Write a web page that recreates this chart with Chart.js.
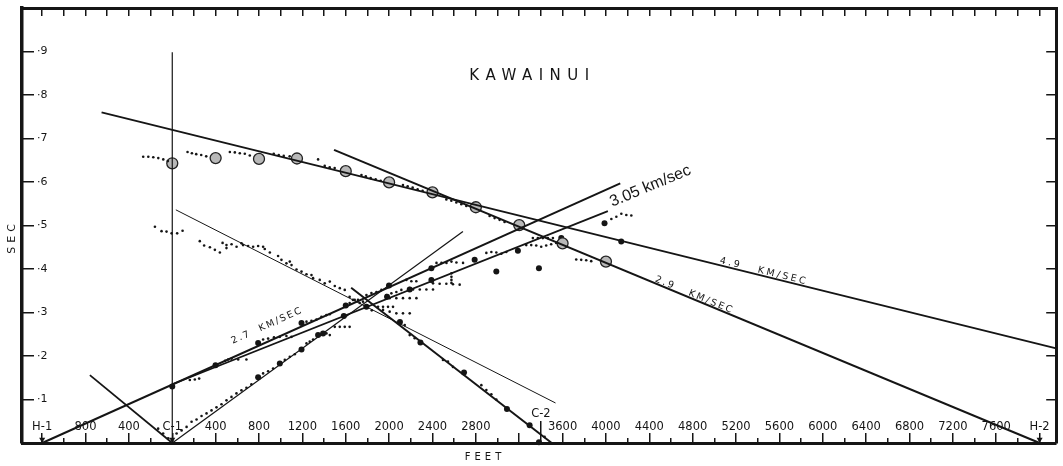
<!DOCTYPE html>
<html>
<head>
<meta charset="utf-8">
<script src="https://cdn.jsdelivr.net/npm/chart.js@4.4.1/dist/chart.umd.min.js"></script>
<style>
	html, body { margin: 0; padding: 0; background: #fff; }
	#wrap { position: relative; width: 1063px; height: 466px; }
</style>
</head>
<body>
<div id="wrap"><canvas id="chart"></canvas></div>
<script>
// distance in feet from shot point C-1, travel time in seconds

const xMajor = [-1200, -800, -400, 0, 400, 800, 1200, 1600, 2000, 2400, 2800, 3200, 3600, 4000, 4400, 4800, 5200, 5600, 6000, 6400, 6800, 7200, 7600, 8000];
const xMajorLabels = ['H-1', '800', '400', 'C-1', '400', '800', '1200', '1600', '2000', '2400', '2800', '', '3600', '4000', '4400', '4800', '5200', '5600', '6000', '6400', '6800', '7200', '7600', 'H-2'];
const xMinor = [-1000, -600, -200, 200, 600, 1000, 1400, 1800, 2200, 2600, 3000, 3800, 4200, 4600, 5000, 5400, 5800, 6200, 6600, 7000, 7400, 7800];
const xC2 = [3400];
const xC2Labels = ['C-2'];
const yTicks = [0.1, 0.2, 0.3, 0.4, 0.5, 0.6, 0.7, 0.8, 0.9];
const yTickLabels = ['·1', '·2', '·3', '·4', '·5', '·6', '·7', '·8', '·9'];

// ringed picks
const ringX = [0, 400, 800, 1150, 1600, 2000, 2400, 2800, 3200, 3600, 4000];
const ringY = [0.643, 0.655, 0.653, 0.654, 0.625, 0.599, 0.576, 0.542, 0.501, 0.459, 0.417];

// large picks
const bigX = [0, 399, 792, 1192, 1600, 1582, 1791, 1981, 1999, 2190, 2390, 2390, 2789, 2989, 3188, 3382, 3588, 3987, 4141, 792, 992, 1192, 1345, 1391, 2100, 2289, 2691, 3087, 3296, 3382];
const bigY = [0.130, 0.179, 0.230, 0.276, 0.316, 0.292, 0.313, 0.336, 0.362, 0.353, 0.402, 0.375, 0.421, 0.394, 0.442, 0.402, 0.471, 0.505, 0.463, 0.151, 0.183, 0.215, 0.248, 0.252, 0.278, 0.231, 0.162, 0.078, 0.041, 0.002];

// small picks
const upperX = [-268, -221, -175, -129, -83, -41, 141, 181, 221, 267, 313, 531, 577, 623, 669, 715, 936, 982, 1028, 1083, 1345, 1406, 1452, 1498, 1745, 1785, 1830, 1876, 1922, 2128, 2171, 2217, 2263, 2309, 2528, 2574, 2620, 2666, 2712, 2927, 2973, 3019, 3065, 3726, 3772, 3818, 3864, 4050, 4096, 4142, 4188, 4234];
const upperY = [0.658, 0.658, 0.657, 0.655, 0.652, 0.648, 0.669, 0.666, 0.664, 0.662, 0.659, 0.669, 0.668, 0.666, 0.665, 0.661, 0.665, 0.662, 0.660, 0.659, 0.652, 0.637, 0.634, 0.632, 0.616, 0.613, 0.609, 0.606, 0.603, 0.593, 0.590, 0.587, 0.583, 0.580, 0.560, 0.557, 0.553, 0.549, 0.545, 0.522, 0.517, 0.513, 0.508, 0.422, 0.421, 0.420, 0.418, 0.515, 0.520, 0.527, 0.524, 0.523];

const lowerX = [-160, -99, -53, -6, 45, 95, 254, 294, 347, 393, 439, 464, 500, 500, 547, 593, 639, 653, 700, 746, 792, 838, 853, 900, 976, 1007, 1053, 1084, 1100, 1146, 1192, 1238, 1284, 1299, 1360, 1406, 1453, 1499, 1545, 1591, 1636, 1683, 1729, 1775, 1840, 2144, 2190, 2236, 2497, 2543, 2589, 2851, 2897, 2943, 2989, 3434, -130, -84, -38];
const lowerY = [0.497, 0.487, 0.486, 0.482, 0.482, 0.488, 0.464, 0.454, 0.450, 0.444, 0.438, 0.460, 0.455, 0.448, 0.457, 0.451, 0.459, 0.455, 0.453, 0.451, 0.453, 0.451, 0.446, 0.438, 0.430, 0.421, 0.413, 0.417, 0.409, 0.399, 0.394, 0.388, 0.386, 0.379, 0.375, 0.367, 0.371, 0.361, 0.356, 0.352, 0.336, 0.329, 0.322, 0.315, 0.305, 0.271, 0.248, 0.241, 0.191, 0.187, 0.175, 0.133, 0.122, 0.112, 0.100, 0.014, 0.033, 0.022, 0.011];

const steepX = [40, 86, 132, 178, 224, 270, 316, 362, 408, 454, 500, 546, 592, 638, 684, 730, 838, 884, 930, 1038, 1084, 1130, 1238, 1268, 1299];
const steepY = [0.022, 0.029, 0.037, 0.049, 0.054, 0.062, 0.068, 0.075, 0.082, 0.089, 0.098, 0.106, 0.114, 0.121, 0.127, 0.135, 0.160, 0.165, 0.171, 0.191, 0.198, 0.204, 0.229, 0.233, 0.238];

const middleX = [162, 208, 248, 487, 515, 547, 608, 684, 838, 884, 938, 992, 1053, 1100, 1238, 1284, 1330, 1376, 1422, 1453, 1422, 1453, 1499, 1545, 1591, 1636, 1636, 1667, 1713, 1759, 1791, 1837, 1883, 1929, 1975, 2021, 2067, 2113, 2190, 1944, 2005, 2067, 2128, 2190, 1898, 1944, 1990, 2036, 2005, 2067, 2128, 2190, 2252, 2159, 2205, 2251, 2221, 2283, 2344, 2405, 2405, 2466, 2528, 2589, 2651, 2575, 2575, 2575, 2575, 2437, 2483, 2529, 2575, 2621, 2682, 2897, 2943, 2989, 3035, 3081, 3265, 3311, 3357, 3403, 3449, 3495, 3541, 3326, 3372, 3418, 3464, 3511];
const middleY = [0.145, 0.146, 0.148, 0.189, 0.192, 0.194, 0.192, 0.192, 0.238, 0.240, 0.243, 0.244, 0.246, 0.244, 0.279, 0.281, 0.284, 0.290, 0.294, 0.296, 0.252, 0.248, 0.267, 0.267, 0.267, 0.267, 0.322, 0.329, 0.329, 0.325, 0.340, 0.345, 0.347, 0.352, 0.340, 0.344, 0.347, 0.352, 0.356, 0.306, 0.302, 0.298, 0.298, 0.298, 0.313, 0.313, 0.313, 0.313, 0.333, 0.333, 0.333, 0.333, 0.333, 0.375, 0.372, 0.372, 0.353, 0.353, 0.353, 0.353, 0.367, 0.366, 0.366, 0.365, 0.364, 0.390, 0.382, 0.375, 0.368, 0.414, 0.414, 0.414, 0.417, 0.415, 0.414, 0.437, 0.439, 0.438, 0.435, 0.439, 0.455, 0.455, 0.454, 0.451, 0.454, 0.457, 0.460, 0.471, 0.471, 0.471, 0.471, 0.471];

// shot points
const shotX = [-1200, 0, 8000];
const shotY = [0.008, 0.008, 0.008];

// fitted velocity lines (end points)
const line49X = [-652, 8153];
const line49Y = [0.760, 0.2175];
const line29X = [1492, 8000];
const line29Y = [0.674, 0];
const line305X = [-1200, 4132];
const line305Y = [0, 0.597];
const line27X = [0, 4018];
const line27Y = [0.135, 0.533];
const lineThinX = [33, 3535];
const lineThinY = [0.536, 0.092];
const lineSteepX = [0, 2681];
const lineSteepY = [0, 0.486];
const lineDownX = [1650, 3500];
const lineDownY = [0.357, 0];
const lineLeftX = [-760, 0];
const lineLeftY = [0.156, 0];
const lineC1X = [0, 0];
const lineC1Y = [0, 0.898];

const xMin = -1386;
const xMax = 8153;
const ink = '#151515';
const face = 'DejaVu Sans';

function pts(xs, ys) {
	return xs.map((x, i) => ({x: x, y: ys[i]}));
}

function line(xs, ys, width) {
	return {
		data: pts(xs, ys),
		showLine: true,
		borderColor: ink,
		borderWidth: width,
		pointRadius: 0,
		clip: false
	};
}

function dots(xs, ys, radius, extra) {
	return Object.assign({
		data: pts(xs, ys),
		pointRadius: radius,
		pointBackgroundColor: ink,
		pointBorderWidth: 0,
		clip: false
	}, extra || {});
}

// scales sit on the frame itself: no room taken, no label overhang
function flat(s) {
	if (s.isHorizontal()) {
		s.height = 0;
	} else {
		s.width = 0;
	}
	s.paddingTop = 0;
	s.paddingBottom = 0;
	s.paddingLeft = 0;
	s.paddingRight = 0;
}

function edgeAxis(position, values, tickLength, border) {
	const horizontal = position === 'top' || position === 'bottom';
	return {
		type: 'linear',
		position: position,
		min: horizontal ? xMin : 0,
		max: horizontal ? xMax : 1,
		afterBuildTicks: s => { s.ticks = values.map(v => ({value: v})); },
		afterFit: flat,
		grid: { display: true, drawOnChartArea: false, drawTicks: true, tickLength: tickLength, color: ink, lineWidth: 1.5 },
		border: { display: border, color: ink, width: 3 },
		ticks: { display: false }
	};
}

const notes = {
	id: 'notes',
	afterDatasetsDraw(chart) {
		const {ctx, chartArea, scales: {x, y}} = chart;

		function put(text, fx, sy, deg, size, spacing, align, family) {
			ctx.save();
			ctx.translate(x.getPixelForValue(fx), y.getPixelForValue(sy));
			ctx.rotate(deg * Math.PI / 180);
			ctx.font = size + 'px "' + (family || face) + '"';
			ctx.letterSpacing = spacing + 'px';
			ctx.fillStyle = ink;
			ctx.textAlign = align;
			ctx.textBaseline = 'alphabetic';
			ctx.fillText(text, 0, 0);
			ctx.restore();
		}

		put('KAWAINUI', 3323, 0.835, 0, 15, 6.5, 'center');
		put('3.05 km/sec', 4059, 0.543, -22.6, 16, 0, 'left', 'Liberation Sans');
		put('4.9   KM/SEC', 5046, 0.414, 13.85, 9.5, 2.5, 'left');
		put('2.9   KM/SEC', 4449, 0.372, 22.6, 9.5, 2, 'left');
		put('2.7  KM/SEC', 559, 0.228, -24.2, 9.5, 1.8, 'left');

		ctx.save();
		ctx.fillStyle = ink;
		ctx.font = '10px "' + face + '"';
		ctx.letterSpacing = '4px';
		ctx.textAlign = 'center';
		ctx.textBaseline = 'middle';
		ctx.fillText('FEET', 485, chartArea.bottom + 14);
		ctx.translate(chartArea.left - 10, 237);
		ctx.rotate(-Math.PI / 2);
		ctx.font = '11px "' + face + '"';
		ctx.fillText('SEC', 0, 0);
		ctx.restore();
	}
};

new Chart(document.getElementById('chart'), {
	type: 'scatter',
	data: {
		datasets: [
			line(line49X, line49Y, 2),
			line(line29X, line29Y, 2),
			line(line305X, line305Y, 2),
			line(line27X, line27Y, 1.8),
			line(lineThinX, lineThinY, 1),
			line(lineSteepX, lineSteepY, 1.2),
			line(lineDownX, lineDownY, 2),
			line(lineLeftX, lineLeftY, 1.8),
			line(lineC1X, lineC1Y, 1.2),
			dots(upperX, upperY, 1.3),
			dots(lowerX, lowerY, 1.3),
			dots(steepX, steepY, 1.3),
			dots(middleX, middleY, 1.3),
			dots(ringX, ringY, 5.5, { pointBackgroundColor: '#b8b8b8', pointBorderColor: '#222', pointBorderWidth: 1.3 }),
			dots(ringX, ringY, 3),
			dots(bigX, bigY, 3),
			dots(shotX, shotY, 3.5, { pointStyle: 'triangle', rotation: 180 })
		]
	},
	options: {
		responsive: true,
		maintainAspectRatio: false,
		animation: false,
		events: [],
		layout: { padding: { left: 22, right: 6, top: 8, bottom: 23 } },
		plugins: {
			legend: { display: false },
			tooltip: { enabled: false }
		},
		scales: {
			x: {
				type: 'linear',
				position: 'bottom',
				min: xMin,
				max: xMax,
				afterBuildTicks: s => { s.ticks = xMajor.map(v => ({value: v})); },
				afterFit: flat,
				grid: { display: true, drawOnChartArea: false, drawTicks: true, tickLength: -10, color: ink, lineWidth: 1.5 },
				border: { display: true, color: ink, width: 3 },
				ticks: {
					autoSkip: false,
					maxRotation: 0,
					minRotation: 0,
					mirror: true,
					padding: 9,
					color: ink,
					font: { family: face, size: 11.5 },
					callback: (v, i) => xMajorLabels[i]
				}
			},
			xm: edgeAxis('bottom', xMinor, -5, false),
			xc: {
				type: 'linear',
				position: 'bottom',
				min: xMin,
				max: xMax,
				afterBuildTicks: s => { s.ticks = xC2.map(v => ({value: v})); },
				afterFit: flat,
				grid: { display: true, drawOnChartArea: false, drawTicks: true, tickLength: -22, color: ink, lineWidth: 1.5 },
				border: { display: false },
				ticks: {
					autoSkip: false,
					maxRotation: 0,
					minRotation: 0,
					mirror: true,
					padding: 22,
					color: ink,
					font: { family: face, size: 11.5 },
					callback: (v, i) => xC2Labels[i]
				}
			},
			xt: edgeAxis('top', xMajor.concat(xMinor, xC2), -8, true),
			y: {
				type: 'linear',
				position: 'left',
				min: 0,
				max: 1,
				afterBuildTicks: s => { s.ticks = yTicks.map(v => ({value: v})); },
				afterFit: flat,
				grid: { display: true, drawOnChartArea: false, drawTicks: true, tickLength: -12, color: ink, lineWidth: 1.5 },
				border: { display: true, color: ink, width: 3.5 },
				ticks: {
					mirror: true,
					padding: 15,
					color: ink,
					font: { family: face, size: 11 },
					callback: (v, i) => yTickLabels[i]
				}
			},
			yr: edgeAxis('right', yTicks, -10, true)
		}
	},
	plugins: [notes]
});
</script>
</body>
</html>
